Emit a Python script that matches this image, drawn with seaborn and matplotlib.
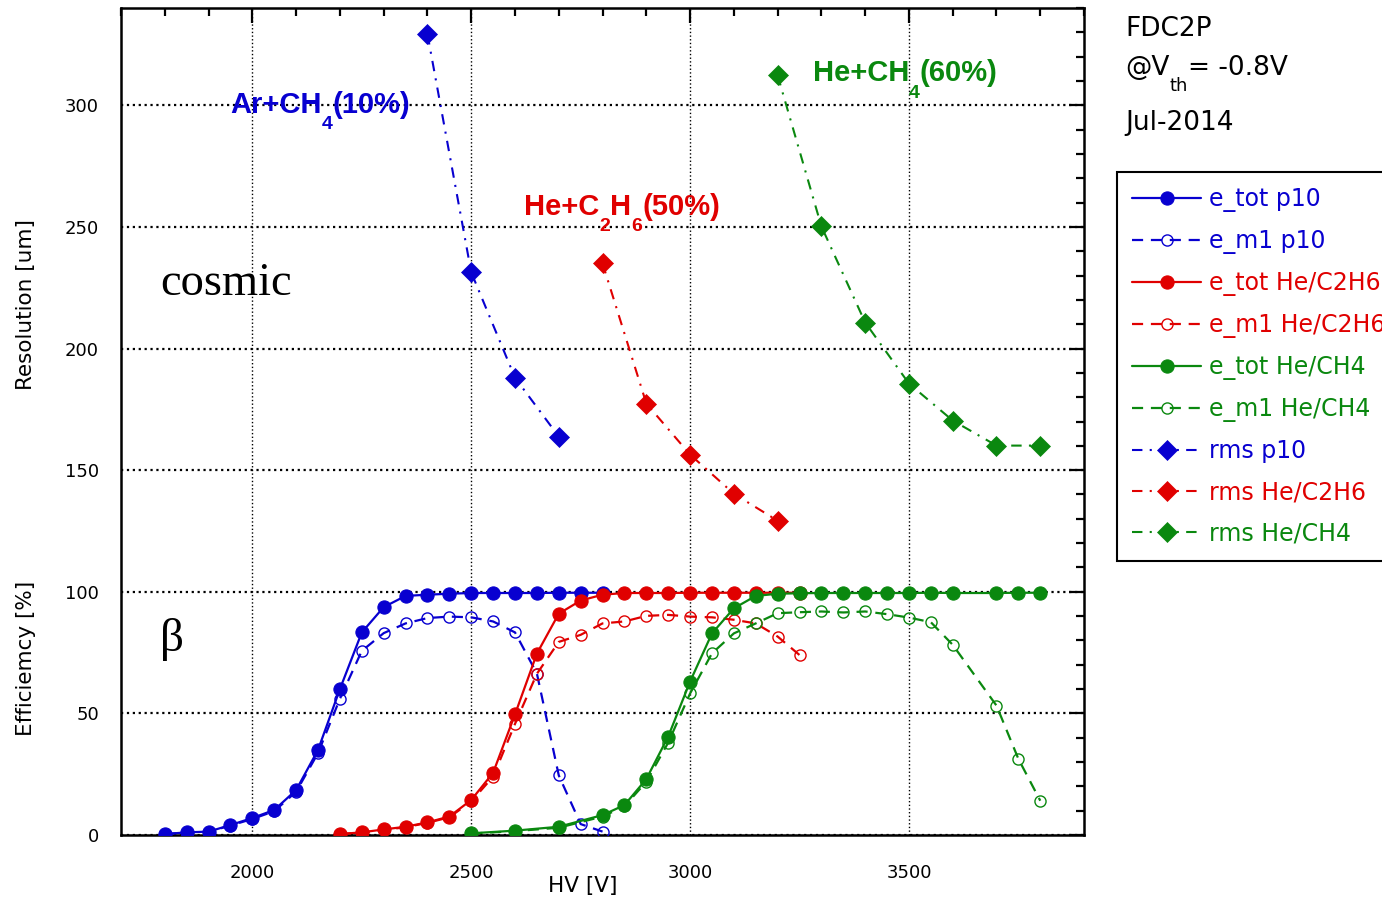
import matplotlib
matplotlib.use("Agg")
import matplotlib.pyplot as plt
from matplotlib.ticker import MultipleLocator
import seaborn as sns

# ---------------- data ----------------
hv_p10 = [1800, 1850, 1900, 1950, 2000, 2050, 2100, 2150, 2200, 2250, 2300,
          2350, 2400, 2450, 2500, 2550, 2600, 2650, 2700, 2750, 2800]
etot_p10 = [0.4, 1.1, 1.4, 4.1, 7.0, 10.3, 18.5, 35.0, 60.0, 83.3, 93.7,
            98.3, 98.8, 99.2, 99.5, 99.5, 99.5, 99.5, 99.6, 99.6, 99.6]
em1_p10 = [0.4, 1.0, 1.3, 3.9, 6.6, 9.8, 17.8, 33.7, 56.0, 75.7, 83.0,
           87.0, 89.2, 89.8, 89.5, 87.8, 83.3, 66.4, 24.5, 4.5, 1.4]

hv_c2h6 = [2200, 2250, 2300, 2350, 2400, 2450, 2500, 2550, 2600, 2650, 2700,
           2750, 2800, 2850, 2900, 2950, 3000, 3050, 3100, 3150, 3200, 3250]
etot_c2h6 = [0.4, 1.1, 2.3, 3.4, 5.2, 7.6, 14.4, 25.6, 49.6, 74.6, 91.0,
             96.4, 98.8, 99.5, 99.5, 99.5, 99.6, 99.6, 99.6, 99.6, 99.6, 99.6]
em1_c2h6 = [0.4, 1.0, 2.1, 3.2, 5.0, 7.3, 13.8, 24.0, 45.7, 66.3, 79.4,
            82.3, 87.0, 87.8, 90.1, 90.5, 89.8, 89.5, 88.5, 87.0, 81.6, 74.0]

hv_ch4 = [2500, 2600, 2700, 2800, 2850, 2900, 2950, 3000, 3050, 3100, 3150,
          3200, 3250, 3300, 3350, 3400, 3450, 3500, 3550, 3600, 3700, 3750, 3800]
etot_ch4 = [0.7, 1.8, 3.4, 8.2, 12.3, 23.0, 40.5, 63.1, 82.9, 93.2, 98.3,
            99.2, 99.4, 99.5, 99.5, 99.5, 99.5, 99.5, 99.6, 99.5, 99.5, 99.6, 99.6]
em1_ch4 = [0.6, 1.6, 3.0, 7.6, 11.8, 21.9, 38.0, 58.2, 74.7, 82.9, 87.0,
           91.2, 91.6, 91.9, 91.5, 91.9, 90.8, 89.4, 87.5, 78.2, 53.2, 31.3, 14.1]

hv_rms_p10 = [2400, 2500, 2600, 2700]
rms_p10 = [329.2, 231.3, 188.0, 163.8]
hv_rms_c2h6 = [2800, 2900, 3000, 3100, 3200]
rms_c2h6 = [235.0, 177.4, 156.4, 140.3, 129.2]
hv_rms_ch4 = [3200, 3300, 3400, 3500, 3600, 3700, 3800]
rms_ch4 = [312.3, 250.2, 210.7, 185.6, 170.4, 160.1, 160.1]

labels = ["e_tot p10", "e_m1 p10", "e_tot He/C2H6", "e_m1 He/C2H6",
          "e_tot He/CH4", "e_m1 He/CH4", "rms p10", "rms He/C2H6", "rms He/CH4"]
x_ticks = [2000, 2500, 3000, 3500]
y_ticks = [0, 50, 100, 150, 200, 250, 300]

# ---------------- style ----------------
sns.set_theme(style="white")
plt.rcParams["font.family"] = ["DejaVu Sans"]
plt.rcParams["mathtext.fontset"] = "dejavusans"
for k in ["text.color", "axes.labelcolor", "xtick.color", "ytick.color"]:
    plt.rcParams[k] = "black"

BLUE = "#0800d0"
RED = "#e00000"
GREEN = "#0a880f"

fig = plt.figure(figsize=(13.82, 9.0), dpi=100)
ax = fig.add_axes([0.0876, 0.0722, 0.6968, 0.9189])

DASH = (0, (5, 3.5))
DASHDOT = (0, (5, 3.5, 1, 3.5))

def eff_tot(x, y, c, lab):
    sns.lineplot(x=x, y=y, ax=ax, color=c, linestyle="-", lw=1.6,
                 marker="o", markersize=9.5, markerfacecolor=c,
                 markeredgecolor=c, markeredgewidth=0.8, label=lab, zorder=3)

def eff_m1(x, y, c, lab):
    sns.lineplot(x=x, y=y, ax=ax, color=c, linestyle=DASH, lw=1.6,
                 marker="o", markersize=8, markerfacecolor="none",
                 markeredgecolor=c, markeredgewidth=1.0, label=lab, zorder=3)

def rms(x, y, c, lab):
    sns.lineplot(x=x, y=y, ax=ax, color=c, linestyle=DASHDOT, lw=1.5,
                 marker="D", markersize=10, markerfacecolor=c,
                 markeredgecolor=c, markeredgewidth=0.5, label=lab, zorder=3)

eff_tot(hv_p10, etot_p10, BLUE, labels[0])
eff_m1(hv_p10, em1_p10, BLUE, labels[1])
eff_tot(hv_c2h6, etot_c2h6, RED, labels[2])
eff_m1(hv_c2h6, em1_c2h6, RED, labels[3])
eff_tot(hv_ch4, etot_ch4, GREEN, labels[4])
eff_m1(hv_ch4, em1_ch4, GREEN, labels[5])
rms(hv_rms_p10, rms_p10, BLUE, labels[6])
rms(hv_rms_c2h6, rms_c2h6, RED, labels[7])
rms(hv_rms_ch4, rms_ch4, GREEN, labels[8])

ax.set_xlim(1700, 3900)
ax.set_ylim(0, 340)
ax.set_xticks(x_ticks)
ax.set_yticks(y_ticks)
ax.xaxis.set_minor_locator(MultipleLocator(100))
ax.yaxis.set_minor_locator(MultipleLocator(10))
ax.tick_params(which="both", direction="in", top=True, right=True,
               colors="black", width=1.6, labelsize=13)
ax.tick_params(which="major", length=11)
ax.tick_params(which="minor", length=6)
ax.tick_params(axis="y", which="major", pad=16)
ax.tick_params(axis="x", which="major", pad=21)
ax.set_xlabel("")
ax.set_ylabel("")
for s in ax.spines.values():
    s.set_color("black")
    s.set_linewidth(1.8)

ax.set_axisbelow(True)
ax.xaxis.grid(True, which="major", linestyle=":", color="black", lw=1.0)
ax.yaxis.grid(True, which="major", linestyle=":", color="black", lw=1.6)

# axis labels
fig.text(0.0185, 1 - 305 / 900, "Resolution [um]", rotation=90,
         ha="center", va="center", fontsize=15.5)
fig.text(0.0185, 1 - 658 / 900, "Efficiemcy [%]", rotation=90,
         ha="center", va="center", fontsize=15.5)
fig.text(583 / 1382, 1 - 886 / 900, "HV [V]", ha="center", va="center",
         fontsize=15.5)

# in-plot annotations
ax.text(1789, 222, "cosmic", family="Liberation Serif", fontsize=33.5,
        color="black", va="baseline", ha="left")
ax.text(1789, 75.5, "β", family="Liberation Serif", fontsize=34,
        color="black", va="baseline", ha="left")


def chain(x, y, pieces, coords, size, subsize, sub_drop, **kw):
    """Write text pieces one after the other; subscripts dropped below."""
    prev = None
    for txt, is_sub in pieces:
        dy = -sub_drop if is_sub else 0
        fs = subsize if is_sub else size
        if prev is None:
            t = ax.annotate(txt, xy=(x, y), xycoords=coords, xytext=(0, dy),
                            textcoords="offset points", va="baseline",
                            ha="left", fontsize=fs, **kw)
        else:
            t = ax.annotate(txt, xy=(1, y), xycoords=(prev, coords),
                            xytext=(0, dy), textcoords="offset points",
                            va="baseline", ha="left", fontsize=fs, **kw)
        prev = t


ann_kw = dict(family="Liberation Sans", fontweight="bold")
chain(1949, 297, [("Ar+CH", 0), ("4", 1), ("(10%)", 0)], "data",
      21, 14, 11.9, color=BLUE, **ann_kw)
chain(2621, 255, [("He+C", 0), ("2", 1), ("H", 0), ("6", 1), ("(50%)", 0)],
      "data", 21, 14, 11.9, color=RED, **ann_kw)
chain(3280, 310, [("He+CH", 0), ("4", 1), ("(60%)", 0)], "data",
      21, 14, 11.9, color=GREEN, **ann_kw)

# header text on the right
fx = 1125 / 1382
chain(fx, 1 - 36 / 900, [("FDC2P", 0)], "figure fraction", 19, 13, 11.5,
      color="black")
chain(fx, 1 - 75 / 900, [("@V", 0), ("th", 1), ("= -0.8V", 0)],
      "figure fraction", 19, 13, 11.5, color="black")
chain(fx, 1 - 130 / 900, [("Jul-2014", 0)], "figure fraction", 19, 13, 11.5,
      color="black")

# legend
handles, labs = ax.get_legend_handles_labels()
leg = ax.legend(handles, labs, loc="upper left",
                bbox_to_anchor=(1117 / 1382, 1 - 172 / 900),
                bbox_transform=fig.transFigure, frameon=True, fancybox=False,
                edgecolor="black", framealpha=1, fontsize=17,
                labelcolor="linecolor", handlelength=2.9, handletextpad=0.35,
                labelspacing=0.72, borderpad=0.65, borderaxespad=0)
leg.get_frame().set_linewidth(1.5)

fig.savefig("out.png", dpi=100)
